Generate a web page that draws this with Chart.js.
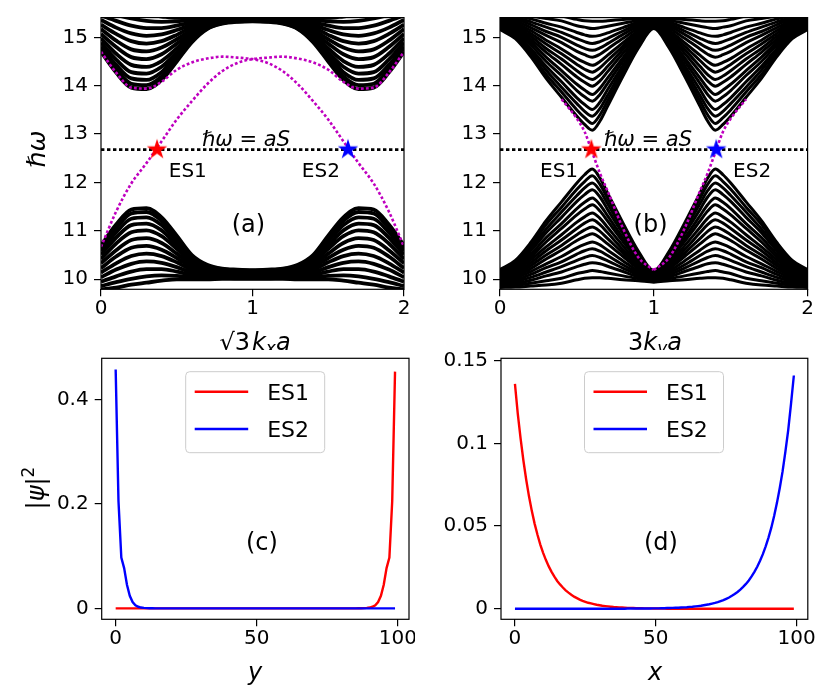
<!DOCTYPE html>
<html><head><meta charset="utf-8">
<script src="https://cdn.jsdelivr.net/npm/chart.js@4.4.1/dist/chart.umd.min.js"></script>
<style>
html,body{margin:0;padding:0;background:#fff;}
#wrap{position:relative;width:830px;height:700px;overflow:hidden;background:#fff;}
canvas{position:absolute;}
</style></head><body>
<div id="wrap">
<canvas id="ca" style="left:0px;top:0px;width:415px;height:350px"></canvas>
<canvas id="cb" style="left:415px;top:0px;width:415px;height:350px"></canvas>
<canvas id="cc" style="left:0px;top:350px;width:415px;height:350px"></canvas>
<canvas id="cd" style="left:415px;top:350px;width:415px;height:350px"></canvas>
</div>
<script>
// ---------------- DATA ----------------
const aS = 12.68;
const kA = [0,0.1,0.2,0.3,0.4,0.5,0.6,0.7,0.8,0.9,1.0,1.1,1.2,1.3,1.4,1.5,1.6,1.7,1.8,1.9,2.0];
const kB = [0,0.1,0.2,0.3,0.4,0.5,0.55,0.6,0.65,0.7,0.8,0.9,1.0,1.1,1.2,1.3,1.35,1.4,1.45,1.5,1.6,1.7,1.8,1.9,2.0];
const xTicksTop = [0,1,2];
const xLabelsTop = ['0','1','2'];
const yTicksTop = [10,11,12,13,14,15];
const yLabelsTop = ['10','11','12','13','14','15'];
const xTicksBot = [0,50,100];
const xLabelsBot = ['0','50','100'];
const yTicksC = [0,0.2,0.4];
const yLabelsC = ['0','0.2','0.4'];
const yTicksD = [0,0.05,0.1,0.15];
const yLabelsD = ['0','0.05','0.1','0.15'];

// panel (a): lower bulk band curves
const bandA_lower = [
[10.70,11.13,11.44,11.47,11.28,10.90,10.50,10.30,10.22,10.20,10.19,10.20,10.22,10.30,10.50,10.90,11.28,11.47,11.44,11.13,10.70],
[10.65,11.06,11.36,11.39,11.21,10.85,10.47,10.28,10.21,10.19,10.18,10.19,10.21,10.28,10.47,10.85,11.21,11.39,11.36,11.06,10.65],
[10.59,10.97,11.25,11.28,11.12,10.79,10.44,10.26,10.19,10.18,10.17,10.18,10.19,10.26,10.44,10.79,11.12,11.28,11.25,10.97,10.59],
[10.51,10.86,11.12,11.15,11.01,10.71,10.40,10.24,10.18,10.16,10.15,10.16,10.18,10.24,10.40,10.71,11.01,11.15,11.12,10.86,10.51],
[10.42,10.74,10.97,11.01,10.89,10.63,10.35,10.21,10.16,10.14,10.13,10.14,10.16,10.21,10.35,10.63,10.89,11.01,10.97,10.74,10.42],
[10.33,10.60,10.81,10.85,10.75,10.53,10.30,10.18,10.13,10.12,10.12,10.12,10.13,10.18,10.30,10.53,10.75,10.85,10.81,10.60,10.33],
[10.23,10.47,10.65,10.69,10.61,10.44,10.25,10.15,10.11,10.10,10.10,10.10,10.11,10.15,10.25,10.44,10.61,10.69,10.65,10.47,10.23],
[10.14,10.33,10.48,10.53,10.48,10.35,10.19,10.12,10.09,10.08,10.08,10.08,10.09,10.12,10.19,10.35,10.48,10.53,10.48,10.33,10.14],
[10.04,10.20,10.32,10.37,10.34,10.25,10.14,10.09,10.07,10.06,10.06,10.06,10.07,10.09,10.14,10.25,10.34,10.37,10.32,10.20,10.04],
[9.95,10.06,10.16,10.21,10.21,10.16,10.09,10.06,10.05,10.04,10.04,10.04,10.05,10.06,10.09,10.16,10.21,10.21,10.16,10.06,9.95],
[9.86,9.94,10.01,10.06,10.08,10.07,10.04,10.03,10.03,10.02,10.02,10.02,10.03,10.03,10.04,10.07,10.08,10.06,10.01,9.94,9.86],
[9.79,9.83,9.89,9.93,9.97,10.00,10.00,10.00,10.01,10.01,10.01,10.01,10.01,10.00,10.00,10.00,9.97,9.93,9.89,9.83,9.79]
];
// panel (a): upper bulk band curves
const bandA_upper = [
[14.70,14.27,13.96,13.93,14.12,14.50,14.90,15.17,15.28,15.32,15.33,15.32,15.28,15.17,14.90,14.50,14.12,13.93,13.96,14.27,14.70],
[14.75,14.34,14.04,14.01,14.19,14.55,14.93,15.18,15.29,15.33,15.34,15.33,15.29,15.18,14.93,14.55,14.19,14.01,14.04,14.34,14.75],
[14.81,14.43,14.15,14.12,14.28,14.61,14.96,15.20,15.30,15.33,15.34,15.33,15.30,15.20,14.96,14.61,14.28,14.12,14.15,14.43,14.81],
[14.89,14.54,14.28,14.25,14.39,14.69,15.00,15.22,15.31,15.34,15.35,15.34,15.31,15.22,15.00,14.69,14.39,14.25,14.28,14.54,14.89],
[14.98,14.66,14.43,14.39,14.51,14.77,15.05,15.25,15.33,15.35,15.36,15.35,15.33,15.25,15.05,14.77,14.51,14.39,14.43,14.66,14.98],
[15.07,14.80,14.59,14.55,14.65,14.87,15.10,15.28,15.34,15.37,15.37,15.37,15.34,15.28,15.10,14.87,14.65,14.55,14.59,14.80,15.07],
[15.17,14.93,14.75,14.71,14.79,14.96,15.15,15.30,15.36,15.38,15.38,15.38,15.36,15.30,15.15,14.96,14.79,14.71,14.75,14.93,15.17],
[15.26,15.07,14.92,14.87,14.92,15.05,15.21,15.33,15.37,15.39,15.39,15.39,15.37,15.33,15.21,15.05,14.92,14.87,14.92,15.07,15.26],
[15.36,15.20,15.08,15.03,15.06,15.15,15.26,15.36,15.39,15.40,15.41,15.40,15.39,15.36,15.26,15.15,15.06,15.03,15.08,15.20,15.36],
[15.45,15.34,15.24,15.19,15.19,15.24,15.31,15.38,15.41,15.41,15.42,15.41,15.41,15.38,15.31,15.24,15.19,15.19,15.24,15.34,15.45],
[15.54,15.46,15.39,15.34,15.32,15.33,15.36,15.41,15.42,15.43,15.43,15.43,15.42,15.41,15.36,15.33,15.32,15.34,15.39,15.46,15.54],
[15.61,15.57,15.51,15.47,15.43,15.40,15.40,15.43,15.43,15.44,15.44,15.44,15.43,15.43,15.40,15.40,15.43,15.47,15.51,15.57,15.61]
];
// panel (a): edge states (magenta)
const edgeA1 = [10.67,11.40,11.98,12.40,12.85,13.30,13.68,14.03,14.30,14.47,14.55,14.58,14.60,14.56,14.48,14.33,14.08,13.94,13.96,14.27,14.70];
const edgeA2 = [14.70,14.27,13.96,13.94,14.08,14.33,14.48,14.56,14.60,14.58,14.55,14.47,14.30,14.03,13.68,13.30,12.85,12.40,11.98,11.40,10.67];
const starsA = [[0.37,12.68],[1.63,12.68]];

// panel (b): upper bulk band curves
const bandB_upper = [
[15.16,14.97,14.60,14.15,13.76,13.37,13.20,13.08,13.27,13.58,14.20,14.78,15.18,14.78,14.20,13.58,13.27,13.08,13.20,13.37,13.76,14.15,14.60,14.97,15.16],
[15.18,15.01,14.66,14.23,13.87,13.50,13.34,13.22,13.40,13.69,14.27,14.82,15.20,14.82,14.27,13.69,13.40,13.22,13.34,13.50,13.87,14.23,14.66,15.01,15.18],
[15.21,15.04,14.72,14.32,13.97,13.63,13.47,13.37,13.53,13.80,14.35,14.86,15.21,14.86,14.35,13.80,13.53,13.37,13.47,13.63,13.97,14.32,14.72,15.04,15.21],
[15.23,15.08,14.77,14.40,14.08,13.75,13.61,13.51,13.66,13.92,14.42,14.90,15.23,14.90,14.42,13.92,13.66,13.51,13.61,13.75,14.08,14.40,14.77,15.08,15.23],
[15.26,15.12,14.84,14.50,14.21,13.90,13.77,13.68,13.82,14.05,14.51,14.94,15.24,14.94,14.51,14.05,13.82,13.68,13.77,13.90,14.21,14.50,14.84,15.12,15.26],
[15.28,15.15,14.90,14.59,14.31,14.03,13.91,13.82,13.95,14.16,14.58,14.98,15.26,14.98,14.58,14.16,13.95,13.82,13.91,14.03,14.31,14.59,14.90,15.15,15.28],
[15.31,15.19,14.96,14.69,14.44,14.18,14.07,13.99,14.10,14.29,14.67,15.03,15.28,15.03,14.67,14.29,14.10,13.99,14.07,14.18,14.44,14.69,14.96,15.19,15.31],
[15.33,15.23,15.02,14.77,14.55,14.31,14.20,14.13,14.23,14.40,14.75,15.07,15.29,15.07,14.75,14.40,14.23,14.13,14.20,14.31,14.55,14.77,15.02,15.23,15.33],
[15.36,15.27,15.08,14.86,14.66,14.44,14.34,14.28,14.37,14.52,14.82,15.11,15.31,15.11,14.82,14.52,14.37,14.28,14.34,14.44,14.66,14.86,15.08,15.27,15.36],
[15.38,15.30,15.14,14.94,14.76,14.56,14.48,14.42,14.50,14.63,14.89,15.14,15.32,15.14,14.89,14.63,14.50,14.42,14.48,14.56,14.76,14.94,15.14,15.30,15.38],
[15.41,15.34,15.20,15.04,14.89,14.71,14.64,14.59,14.65,14.76,14.98,15.19,15.34,15.19,14.98,14.76,14.65,14.59,14.64,14.71,14.89,15.04,15.20,15.34,15.41],
[15.43,15.38,15.26,15.12,15.00,14.84,14.77,14.73,14.78,14.87,15.06,15.23,15.35,15.23,15.06,14.87,14.78,14.73,14.77,14.84,15.00,15.12,15.26,15.38,15.43],
[15.45,15.41,15.32,15.21,15.10,14.97,14.91,14.87,14.91,14.98,15.13,15.27,15.37,15.27,15.13,14.98,14.91,14.87,14.91,14.97,15.10,15.21,15.32,15.41,15.45],
[15.48,15.45,15.38,15.29,15.21,15.10,15.05,15.02,15.04,15.09,15.20,15.31,15.38,15.31,15.20,15.09,15.04,15.02,15.05,15.10,15.21,15.29,15.38,15.45,15.48],
[15.50,15.49,15.44,15.39,15.34,15.24,15.21,15.18,15.20,15.23,15.29,15.35,15.40,15.35,15.29,15.23,15.20,15.18,15.21,15.24,15.34,15.39,15.44,15.49,15.50],
[15.53,15.52,15.50,15.48,15.44,15.37,15.34,15.33,15.33,15.34,15.37,15.39,15.42,15.39,15.37,15.34,15.33,15.33,15.34,15.37,15.44,15.48,15.50,15.52,15.53]
];
// panel (b): lower bulk band curves
const bandB_lower = [
[10.20,10.39,10.76,11.21,11.60,11.99,12.16,12.28,12.09,11.78,11.16,10.58,10.18,10.58,11.16,11.78,12.09,12.28,12.16,11.99,11.60,11.21,10.76,10.39,10.20],
[10.18,10.35,10.70,11.13,11.49,11.86,12.02,12.14,11.96,11.67,11.09,10.54,10.16,10.54,11.09,11.67,11.96,12.14,12.02,11.86,11.49,11.13,10.70,10.35,10.18],
[10.15,10.32,10.64,11.04,11.39,11.73,11.89,11.99,11.83,11.56,11.01,10.50,10.15,10.50,11.01,11.56,11.83,11.99,11.89,11.73,11.39,11.04,10.64,10.32,10.15],
[10.13,10.28,10.59,10.96,11.28,11.61,11.75,11.85,11.70,11.44,10.94,10.46,10.13,10.46,10.94,11.44,11.70,11.85,11.75,11.61,11.28,10.96,10.59,10.28,10.13],
[10.10,10.24,10.52,10.86,11.15,11.46,11.59,11.68,11.54,11.31,10.85,10.42,10.12,10.42,10.85,11.31,11.54,11.68,11.59,11.46,11.15,10.86,10.52,10.24,10.10],
[10.08,10.21,10.46,10.77,11.05,11.33,11.45,11.54,11.41,11.20,10.78,10.38,10.10,10.38,10.78,11.20,11.41,11.54,11.45,11.33,11.05,10.77,10.46,10.21,10.08],
[10.05,10.17,10.40,10.67,10.92,11.18,11.29,11.37,11.26,11.07,10.69,10.33,10.08,10.33,10.69,11.07,11.26,11.37,11.29,11.18,10.92,10.67,10.40,10.17,10.05],
[10.03,10.13,10.34,10.59,10.81,11.05,11.16,11.23,11.13,10.96,10.61,10.29,10.07,10.29,10.61,10.96,11.13,11.23,11.16,11.05,10.81,10.59,10.34,10.13,10.03],
[10.00,10.09,10.28,10.50,10.70,10.92,11.02,11.08,10.99,10.84,10.54,10.25,10.05,10.25,10.54,10.84,10.99,11.08,11.02,10.92,10.70,10.50,10.28,10.09,10.00],
[9.98,10.06,10.22,10.42,10.60,10.80,10.88,10.94,10.86,10.73,10.47,10.22,10.04,10.22,10.47,10.73,10.86,10.94,10.88,10.80,10.60,10.42,10.22,10.06,9.98],
[9.95,10.02,10.16,10.32,10.47,10.65,10.72,10.77,10.71,10.60,10.38,10.17,10.02,10.17,10.38,10.60,10.71,10.77,10.72,10.65,10.47,10.32,10.16,10.02,9.95],
[9.93,9.98,10.10,10.24,10.36,10.52,10.59,10.63,10.58,10.49,10.30,10.13,10.01,10.13,10.30,10.49,10.58,10.63,10.59,10.52,10.36,10.24,10.10,9.98,9.93],
[9.91,9.95,10.04,10.15,10.26,10.39,10.45,10.49,10.45,10.38,10.23,10.09,9.99,10.09,10.23,10.38,10.45,10.49,10.45,10.39,10.26,10.15,10.04,9.95,9.91],
[9.88,9.91,9.98,10.07,10.15,10.26,10.31,10.34,10.32,10.27,10.16,10.05,9.98,10.05,10.16,10.27,10.32,10.34,10.31,10.26,10.15,10.07,9.98,9.91,9.88],
[9.86,9.87,9.92,9.97,10.02,10.12,10.15,10.18,10.16,10.13,10.07,10.01,9.96,10.01,10.07,10.13,10.16,10.18,10.15,10.12,10.02,9.97,9.92,9.87,9.86],
[9.83,9.84,9.86,9.88,9.92,9.99,10.02,10.03,10.03,10.02,9.99,9.97,9.94,9.97,9.99,10.02,10.03,10.03,10.02,9.99,9.92,9.88,9.86,9.84,9.83]
];
// panel (b): edge states (magenta)
const edgeB1 = [null,null,null,null,13.72,13.32,13.05,12.62,12.19,11.82,11.05,10.45,10.19,null,null,null,null,null,null,null,null,null,null,null,null];
const edgeB2 = [null,null,null,null,null,null,null,null,null,null,null,null,10.19,10.45,11.05,11.82,12.19,12.62,13.05,13.32,13.72,null,null,null,null];
const starsB = [[0.594,12.68],[1.406,12.68]];

// panels (c),(d): site index and |psi|^2
const sites = [0,1,2,3,4,5,6,7,8,9,10,11,12,13,14,15,16,17,18,19,20,21,22,23,24,25,26,27,28,29,30,31,32,33,34,35,36,37,38,39,40,41,42,43,44,45,46,47,48,49,50,51,52,53,54,55,56,57,58,59,60,61,62,63,64,65,66,67,68,69,70,71,72,73,74,75,76,77,78,79,80,81,82,83,84,85,86,87,88,89,90,91,92,93,94,95,96,97,98,99];
const es1_c = [
0,0,0,0,0,0,0,0,0,0,
0,0,0,0,0,0,0,0,0,0,
0,0,0,0,0,0,0,0,0,0,
0,0,0,0,0,0,0,0,0,0,
0,0,0,0,0,0,0,0,0,0,
0,0,0,0,0,0,0,0,0,0,
0,0,0,0,0,0,0,0,0,0,
0,0,0,0,0,0,0,0,0,0,
0,0,0,0,0,0,0.0001,0.0002,0.0004,0.0008,
0.0015,0.003,0.006,0.012,0.024,0.045,0.077,0.097,0.205,0.453];
const es2_c = [
0.457,0.205,0.097,0.077,0.045,0.024,0.012,0.006,0.003,0.0015,
0.0008,0.0004,0.0002,0.0001,0,0,0,0,0,0,
0,0,0,0,0,0,0,0,0,0,
0,0,0,0,0,0,0,0,0,0,
0,0,0,0,0,0,0,0,0,0,
0,0,0,0,0,0,0,0,0,0,
0,0,0,0,0,0,0,0,0,0,
0,0,0,0,0,0,0,0,0,0,
0,0,0,0,0,0,0,0,0,0,
0,0,0,0,0,0,0,0,0,0];
const es1_d = [
0.136,0.118,0.103,0.0896,0.078,0.0678,0.059,0.0513,0.0447,0.0388,
0.0338,0.0294,0.0256,0.0223,0.0194,0.0168,0.0147,0.0128,0.0111,0.0097,
0.0084,0.0073,0.0064,0.0055,0.0048,0.0042,0.0036,0.0032,0.0028,0.0024,
0.0021,0.0018,0.0016,0.0014,0.0012,0.001,0.0009,0.0008,0.0007,0.0006,
0.0005,0.0005,0.0004,0.0003,0.0003,0.0003,0.0002,0.0002,0.0002,0.0001,
0.0001,0.0001,0.0001,0.0001,0,0,0,0,0,0,
0,0,0,0,0,0,0,0,0,0,
0,0,0,0,0,0,0,0,0,0,
0,0,0,0,0,0,0,0,0,0,
0,0,0,0,0,0,0,0,0,0];
const es2_d = [
0,0,0,0,0,0,0,0,0,0,
0,0,0,0,0,0,0,0,0,0,
0,0,0,0,0,0,0,0,0,0,
0,0,0,0,0,0,0,0,0,0,
0.0001,0.0001,0.0001,0.0001,0.0001,0.0001,0.0001,0.0001,0.0001,0.0002,
0.0002,0.0002,0.0003,0.0003,0.0004,0.0004,0.0005,0.0006,0.0006,0.0007,
0.0008,0.0009,0.0011,0.0012,0.0014,0.0016,0.0018,0.0021,0.0024,0.0027,
0.0031,0.0035,0.004,0.0046,0.0052,0.006,0.0068,0.0078,0.0089,0.0101,
0.0115,0.0132,0.015,0.0171,0.0195,0.0223,0.0254,0.029,0.033,0.0377,
0.043,0.049,0.056,0.064,0.073,0.083,0.095,0.108,0.124,0.141];

// ---------------- RENDERING ----------------
Chart.defaults.font.family = "'DejaVu Sans'";
Chart.defaults.color = '#000';
const MAG = '#bf00bf';
const FONT = "'DejaVu Sans'";
const R = (t,s,extra) => Object.assign({t, f: s + 'px ' + FONT}, extra||{});
const I = (t,s,extra) => Object.assign({t, f: 'italic ' + s + 'px ' + FONT}, extra||{});

function starImg(color){
  const c = document.createElement('canvas'); c.width = 24; c.height = 24;
  const g = c.getContext('2d'); g.fillStyle = color; g.beginPath();
  for (let i = 0; i < 10; i++) {
    const r = (i % 2) ? 4.1 : 10.8;
    const a = -Math.PI/2 + i*Math.PI/5;
    g.lineTo(12 + r*Math.cos(a), 12 + r*Math.sin(a));
  }
  g.closePath(); g.fill(); return c;
}
const starRed = starImg('#ff0000'), starBlue = starImg('#0000ff');

function drawRich(ctx, segs, x, y, rot){
  ctx.save();
  let w = 0;
  segs.forEach(s => { ctx.font = s.f; s.w = ctx.measureText(s.t).width; w += s.w + (s.dx||0); });
  ctx.translate(x, y); if (rot) ctx.rotate(rot);
  ctx.textBaseline = 'alphabetic'; ctx.textAlign = 'left'; ctx.fillStyle = '#000';
  let cx = -w/2;
  segs.forEach(s => { ctx.font = s.f; cx += (s.dx||0); ctx.fillText(s.t, cx, s.dy||0); cx += s.w; });
  ctx.restore();
}

function deco(cfg){
  return {
    id: 'deco',
    afterDraw(chart){
      const ctx = chart.ctx, a = chart.chartArea, sx = chart.scales.x, sy = chart.scales.y;
      ctx.save();
      ctx.strokeStyle = '#000'; ctx.lineWidth = 1.2;
      ctx.strokeRect(a.left, a.top, a.right - a.left, a.bottom - a.top);
      ctx.restore();
      (cfg.notes||[]).forEach(n => drawRich(ctx, n.segs, sx.getPixelForValue(n.x), sy.getPixelForValue(n.y)));
      (cfg.titles||[]).forEach(n => drawRich(ctx, n.segs, n.px, n.py, n.rot));
      if (cfg.legend) {
        const L = cfg.legend, bx = a.left + L.dx, by = a.top + L.dy;
        ctx.save();
        ctx.beginPath();
        const r = 4, w = L.w, h = L.h;
        ctx.moveTo(bx + r, by); ctx.lineTo(bx + w - r, by); ctx.arcTo(bx + w, by, bx + w, by + r, r);
        ctx.lineTo(bx + w, by + h - r); ctx.arcTo(bx + w, by + h, bx + w - r, by + h, r);
        ctx.lineTo(bx + r, by + h); ctx.arcTo(bx, by + h, bx, by + h - r, r);
        ctx.lineTo(bx, by + r); ctx.arcTo(bx, by, bx + r, by, r); ctx.closePath();
        ctx.fillStyle = 'rgba(255,255,255,0.8)'; ctx.fill();
        ctx.strokeStyle = '#cccccc'; ctx.lineWidth = 1; ctx.stroke();
        chart.data.datasets.filter(d => d.label).forEach((d, i) => {
          const ly = by + L.rows[i];
          ctx.beginPath(); ctx.strokeStyle = d.borderColor; ctx.lineWidth = 2.5;
          ctx.moveTo(bx + L.lx0, ly); ctx.lineTo(bx + L.lx1, ly); ctx.stroke();
          ctx.fillStyle = '#000'; ctx.font = '22px ' + FONT; ctx.textBaseline = 'alphabetic';
          ctx.fillText(d.label, bx + L.tx, ly + 8.2);
        });
        ctx.restore();
      }
    }
  };
}

function axis(min, max, ticks, labels, box, isX, pad){
  return {
    type: 'linear', min, max,
    afterBuildTicks: s => { s.ticks = ticks.map(v => ({value: v})); },
    afterFit: s => {
      if (isX) s.height = box; else s.width = box;
      s.paddingLeft = 0; s.paddingRight = 0; s.paddingTop = 0; s.paddingBottom = 0;
    },
    ticks: { callback: (v, i) => labels[i], font: {size: 20, family: FONT}, color: '#000',
             padding: pad, maxRotation: 0, minRotation: 0, autoSkip: false },
    grid: { display: true, drawOnChartArea: false, drawTicks: true, tickLength: 7, color: '#000', lineWidth: 1.2 },
    border: { display: false }
  };
}

function lineSet(xs, ys, color, width, dash, order){
  return { data: xs.map((x, i) => ({x, y: ys[i]})), borderColor: color, borderWidth: width,
           borderDash: dash || [], pointRadius: 0, pointHoverRadius: 0, fill: false,
           cubicInterpolationMode: 'monotone', clip: 0, order, spanGaps: false };
}
function starSet(p, img){
  return { data: [{x: p[0], y: p[1]}], showLine: false, pointStyle: img, pointRadius: 10,
           pointHoverRadius: 10, order: 0, clip: false };
}

function makeChart(id, datasets, sc, area, cfg){
  const W = 415, H = 350;
  return new Chart(document.getElementById(id), {
    type: 'line',
    data: { datasets },
    options: {
      responsive: false, animation: false, events: [],
      layout: { padding: { left: 0, top: area.T, right: W - area.R, bottom: 0 } },
      plugins: { legend: {display: false}, tooltip: {enabled: false} },
      scales: {
        x: axis(sc.xmin, sc.xmax, sc.xt, sc.xl, H - area.B, true, 0),
        y: axis(sc.ymin, sc.ymax, sc.yt, sc.yl, area.L, false, 6)
      }
    },
    plugins: [deco(cfg)]
  });
}
['ca','cb','cc','cd'].forEach(id => { const c = document.getElementById(id); c.width = 415; c.height = 350; });

// ---- panel (a)
{
  const ds = [];
  ds.push(starSet(starsA[0], starRed), starSet(starsA[1], starBlue));
  ds.push(lineSet(kA, edgeA1, MAG, 2.6, [2.8, 2.2], 1), lineSet(kA, edgeA2, MAG, 2.6, [2.8, 2.2], 1));
  ds.push(lineSet([0, 2], [aS, aS], '#000', 2.6, [3.4, 2.6], 2));
  bandA_lower.forEach(c => ds.push(lineSet(kA, c, '#000', 3.8, null, 5)));
  bandA_upper.forEach(c => ds.push(lineSet(kA, c, '#000', 3.8, null, 5)));
  makeChart('ca', ds,
    {xmin: 0, xmax: 2, xt: xTicksTop, xl: xLabelsTop, ymin: 9.793, ymax: 15.407, yt: yTicksTop, yl: yLabelsTop},
    {L: 101, T: 17.6, R: 408.3, B: 289.3},
    { notes: [
        {segs: [I('ℏω', 21), R(' = ', 21), I('aS', 21)], x: 0.957, y: 12.744},
        {segs: [R('ES1', 20)], x: 0.573, y: 12.12},
        {segs: [R('ES2', 20)], x: 1.451, y: 12.12},
        {segs: [R('(a)', 24)], x: 0.973, y: 10.977}
      ],
      titles: [
        {segs: [I('ℏω', 25)], px: 45, py: 149, rot: -Math.PI/2},
        {segs: [R('√3', 24), I('k', 24, {dx: 2}), I('x', 17, {dy: 4}), I('a', 24)], px: 255, py: 350}
      ]
    });
}
// ---- panel (b)
{
  const ds = [];
  ds.push(starSet(starsB[0], starRed), starSet(starsB[1], starBlue));
  ds.push(lineSet(kB, edgeB1, MAG, 2.6, [2.8, 2.2], 1), lineSet(kB, edgeB2, MAG, 2.6, [2.8, 2.2], 1));
  ds.push(lineSet([0, 2], [aS, aS], '#000', 2.6, [3.4, 2.6], 2));
  bandB_lower.forEach(c => ds.push(lineSet(kB, c, '#000', 3.0, null, 5)));
  bandB_upper.forEach(c => ds.push(lineSet(kB, c, '#000', 3.0, null, 5)));
  makeChart('cb', ds,
    {xmin: 0, xmax: 2, xt: xTicksTop, xl: xLabelsTop, ymin: 9.793, ymax: 15.407, yt: yTicksTop, yl: yLabelsTop},
    {L: 85, T: 17.6, R: 392.6, B: 289.3},
    { notes: [
        {segs: [I('ℏω', 21), R(' = ', 21), I('aS', 21)], x: 0.962, y: 12.744},
        {segs: [R('ES1', 20)], x: 0.384, y: 12.12},
        {segs: [R('ES2', 20)], x: 1.639, y: 12.12},
        {segs: [R('(b)', 24)], x: 0.979, y: 10.977}
      ],
      titles: [
        {segs: [R('3', 24), I('k', 24), I('y', 17, {dy: 4}), I('a', 24)], px: 240, py: 350}
      ]
    });
}
// ---- panel (c)
{
  const ds = [
    Object.assign(lineSet(sites, es1_c, '#ff0000', 2.4, null, 2), {label: 'ES1', cubicInterpolationMode: 'default', tension: 0}),
    Object.assign(lineSet(sites, es2_c, '#0000ff', 2.4, null, 1), {label: 'ES2', cubicInterpolationMode: 'default', tension: 0})
  ];
  makeChart('cc', ds,
    {xmin: -4.95, xmax: 103.95, xt: xTicksBot, xl: xLabelsBot, ymin: -0.021, ymax: 0.4785, yt: yTicksC, yl: yLabelsC},
    {L: 101.7, T: 8.3, R: 409, B: 269.3},
    { notes: [ {segs: [R('(c)', 24)], x: 51.8, y: 0.1112} ],
      titles: [
        {segs: [R('|', 24), I('ψ', 24), R('|', 24), R('2', 17, {dy: -10})], px: 44, py: 138, rot: -Math.PI/2},
        {segs: [I('y', 24)], px: 255, py: 330}
      ],
      legend: {dx: 84, dy: 13.4, w: 139, h: 81, rows: [20, 57.3], lx0: 9, lx1: 62.5, tx: 81.5}
    });
}
// ---- panel (d)
{
  const ds = [
    Object.assign(lineSet(sites, es1_d, '#ff0000', 2.4, null, 2), {label: 'ES1', cubicInterpolationMode: 'default', tension: 0}),
    Object.assign(lineSet(sites, es2_d, '#0000ff', 2.4, null, 1), {label: 'ES2', cubicInterpolationMode: 'default', tension: 0})
  ];
  makeChart('cd', ds,
    {xmin: -4.95, xmax: 103.95, xt: xTicksBot, xl: xLabelsBot, ymin: -0.0064, ymax: 0.1514, yt: yTicksD, yl: yLabelsD},
    {L: 86, T: 8.3, R: 392.8, B: 269.3},
    { notes: [ {segs: [R('(d)', 24)], x: 51.8, y: 0.0354} ],
      titles: [
        {segs: [I('x', 24)], px: 240, py: 330}
      ],
      legend: {dx: 83.5, dy: 13.4, w: 139, h: 81, rows: [20, 57.3], lx0: 9, lx1: 62.5, tx: 81.5}
    });
}
</script>
</body></html>
